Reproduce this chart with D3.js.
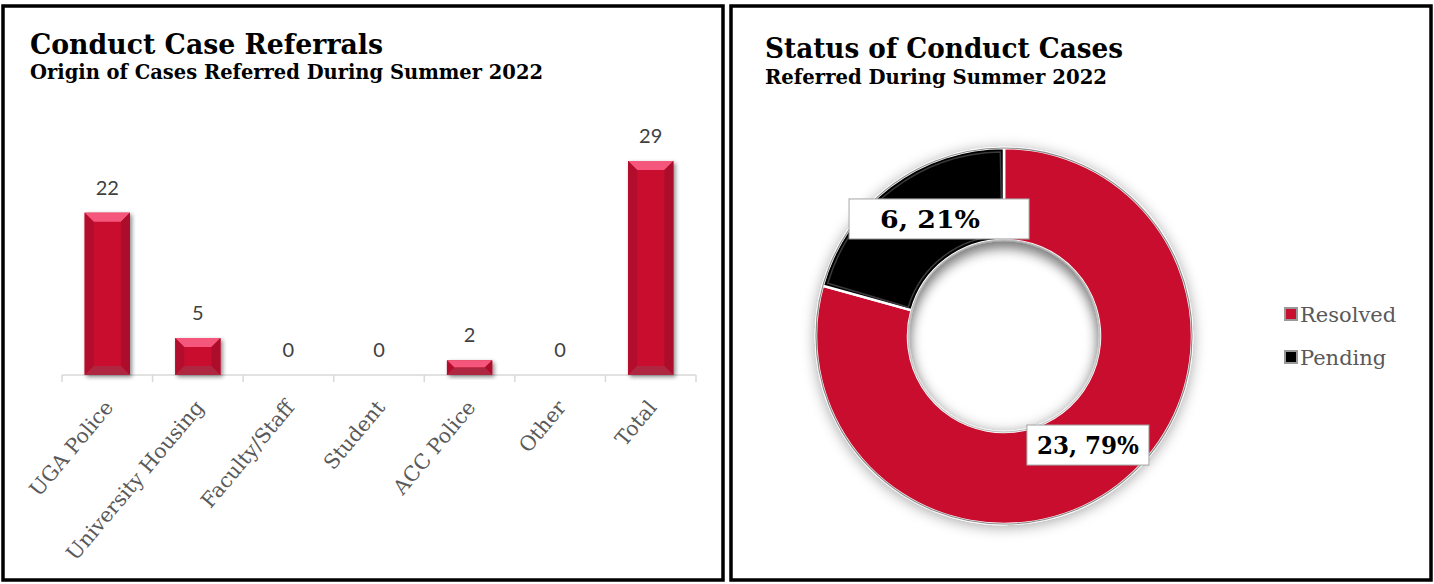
<!DOCTYPE html>
<html><head><meta charset="utf-8">
<script src="https://cdn.jsdelivr.net/npm/d3@7"></script>
<style>body{margin:0;background:#fff;overflow:hidden}</style>
</head><body><svg id="c" width="1434" height="584"></svg>
<script>
// ---- data ----
const categories = ["UGA Police","University Housing","Faculty/Staff","Student","ACC Police","Other","Total"];
const referrals = [22,5,0,0,2,0,29];
const statusLabels = ["Resolved","Pending"];
const statusValues = [23,6];
const statusPercents = ["79%","21%"];
const titles = {
  left: ["Conduct Case Referrals","Origin of Cases Referred During Summer 2022"],
  right: ["Status of Conduct Cases","Referred During Summer 2022"]
};

// ---- layout/style config ----
const RED = "#c8102e";
const svg = d3.select("#c");
const defs = svg.append("defs");

const fs = defs.append("filter").attr("id","barShadow").attr("x","-30%").attr("y","-30%").attr("width","160%").attr("height","160%");
fs.append("feDropShadow").attr("dx",2).attr("dy",2).attr("stdDeviation",2).attr("flood-color","#000").attr("flood-opacity",0.45);
const fd = defs.append("filter").attr("id","donutShadow").attr("x","-30%").attr("y","-30%").attr("width","160%").attr("height","160%");
fd.append("feDropShadow").attr("dx",0).attr("dy",2).attr("stdDeviation",7).attr("flood-color","#000").attr("flood-opacity",0.35);
const fb = defs.append("filter").attr("id","blur6").attr("x","-30%").attr("y","-30%").attr("width","160%").attr("height","160%");
fb.append("feGaussianBlur").attr("stdDeviation",6);

// panels
[[3,6,720,574],[731,6,700,574]].forEach(([x,y,w,h])=>{
  svg.append("rect").attr("x",x).attr("y",y).attr("width",w).attr("height",h)
    .attr("fill","#fff").attr("stroke","#000").attr("stroke-width",3.5);
});

const tfont = "'DejaVu Serif', Georgia, serif";
function title(xp, yp, size, width, txt){
  svg.append("text").attr("x",xp).attr("y",yp).attr("font-family",tfont).attr("font-weight","bold")
    .attr("font-size",size).attr("textLength",width).attr("lengthAdjust","spacingAndGlyphs").text(txt);
}
title(30,54,27,353,titles.left[0]);
title(30,79,19.5,513,titles.left[1]);
title(765,58,27,358,titles.right[0]);
title(765,84,19.5,342,titles.right[1]);

// ---- bar chart ----
const x = d3.scaleBand().domain(categories).range([62,696]).paddingInner(0.5).paddingOuter(0.25);
const y = d3.scaleLinear().domain([0,29]).range([375,161]);
const step = x.step();

const axisG = svg.append("g");
axisG.append("line").attr("x1",62).attr("x2",696).attr("y1",y(0)).attr("y2",y(0)).attr("stroke","#d9d9d9").attr("stroke-width",1.5);
d3.range(categories.length+1).forEach(i=>{
  const tx = x.range()[0] + i*step;
  axisG.append("line").attr("x1",tx).attr("x2",tx).attr("y1",y(0)).attr("y2",y(0)+7).attr("stroke","#d9d9d9").attr("stroke-width",1.5);
});

const data = categories.map((c,i)=>({c, v:referrals[i]}));
const bars = svg.append("g");
data.filter(d=>d.v>0).forEach(d=>{
  const x0 = x(d.c), w = x.bandwidth(), y0 = y(d.v), y1 = y(0), h = y1-y0;
  const b = Math.min(9, h/2);
  const g = bars.append("g").attr("filter","url(#barShadow)");
  g.append("rect").attr("x",x0).attr("y",y0).attr("width",w).attr("height",h).attr("fill",RED);
  const P = (pts)=>pts.map(p=>p.join(",")).join(" ");
  g.append("polygon").attr("points",P([[x0,y0],[x0+w,y0],[x0+w-b,y0+b],[x0+b,y0+b]])).attr("fill","#f5577b");
  g.append("polygon").attr("points",P([[x0,y0],[x0+b,y0+b],[x0+b,y1-b],[x0,y1]])).attr("fill","#b30c2e");
  g.append("polygon").attr("points",P([[x0+w,y0],[x0+w-b,y0+b],[x0+w-b,y1-b],[x0+w,y1]])).attr("fill","#ab0a2b");
  g.append("polygon").attr("points",P([[x0,y1],[x0+b,y1-b],[x0+w-b,y1-b],[x0+w,y1]])).attr("fill","#ae2841");
});

svg.append("g").selectAll("text").data(data).join("text")
  .attr("x",d=>x(d.c)+x.bandwidth()/2).attr("y",d=>y(d.v)-18)
  .attr("text-anchor","middle").attr("font-family","Lato, 'Open Sans', sans-serif").attr("font-size",20)
  .attr("fill","#404040").text(d=>d.v);

svg.append("g").selectAll("text").data(categories).join("text")
  .attr("transform",d=>`translate(${x(d)+x.bandwidth()/2+7},${y(0)+33}) rotate(-50)`)
  .attr("text-anchor","end").attr("font-family","'DejaVu Serif', serif").attr("font-size",20.5)
  .attr("fill","#595959").text(d=>d);

// ---- donut ----
const cx = 1004, cy = 336, rO = 188, rI = 96;
const pie = d3.pie().sort(null).value(d=>d.v);
const pdata = pie(statusLabels.map((l,i)=>({l, v:statusValues[i], p:statusPercents[i]})));
const arc = d3.arc().innerRadius(rI).outerRadius(rO);
const dg = svg.append("g").attr("transform",`translate(${cx},${cy})`);
const colors = {Resolved: RED, Pending: "#000"};
dg.append("g").attr("filter","url(#donutShadow)").selectAll("path").data(pdata).join("path")
  .attr("d",arc).attr("fill",d=>colors[d.data.l]).attr("stroke","#fff").attr("stroke-width",2.5);
const bevelArc = d3.arc().innerRadius(rI+4).outerRadius(rO-4);
dg.selectAll("path.bev").data(pdata.filter(d=>d.data.l==="Pending")).join("path").attr("class","bev")
  .attr("d",d=>bevelArc({startAngle:d.startAngle+0.02,endAngle:d.endAngle-0.02}))
  .attr("fill","none").attr("stroke","#3a3a3a").attr("stroke-width",1.5);
dg.append("circle").attr("r",rO).attr("fill","none").attr("stroke","#8c8c8c").attr("stroke-width",1.2);
defs.append("clipPath").attr("id","hole").append("circle").attr("r",rI);
dg.append("g").attr("clip-path","url(#hole)").append("circle").attr("cx",0).attr("cy",8).attr("r",rI+10)
  .attr("fill","none").attr("stroke","#000").attr("stroke-opacity",0.35).attr("stroke-width",22).attr("filter","url(#blur6)");
dg.append("circle").attr("r",rI).attr("fill","none").attr("stroke","#bbb").attr("stroke-width",1);

const boxW = {Resolved:122, Pending:180};
pdata.forEach(d=>{
  const [lx,ly] = arc.centroid(d);
  const bx = lx + (d.data.l==="Pending"?21:-2), by = ly - 4;
  const w = boxW[d.data.l], h = 40;
  dg.append("rect").attr("x",bx-w/2).attr("y",by-h/2).attr("width",w).attr("height",h)
    .attr("fill","#fff").attr("stroke","#a6a6a6").attr("stroke-width",1);
  dg.append("text").attr("x",d.data.l==="Pending"? bx-9 : bx).attr("y",by+9).attr("text-anchor","middle")
    .attr("font-family",tfont).attr("font-weight","bold").attr("font-size",25)
    .attr("textLength",d.data.l==="Pending"?100:102).attr("lengthAdjust","spacingAndGlyphs")
    .attr("fill","#000").text(`${d.data.v}, ${d.data.p}`);
});

// legend
const lg = svg.append("g");
statusLabels.forEach((l,i)=>{
  const ly = 314 + i*43;
  lg.append("rect").attr("x",1285).attr("y",ly-6).attr("width",12).attr("height",12)
    .attr("fill",colors[l]).attr("stroke","#999").attr("stroke-width",2);
  lg.append("text").attr("x",1300).attr("y",ly+8).attr("font-family","'DejaVu Serif', serif")
    .attr("font-size",21).attr("fill","#595959").text(l);
});
</script></body></html>
